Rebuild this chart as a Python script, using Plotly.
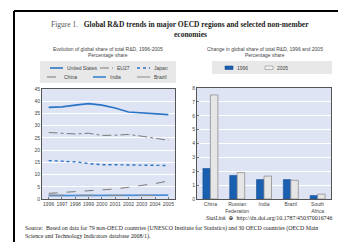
import plotly.graph_objects as go

years = [1996, 1997, 1998, 1999, 2000, 2001, 2002, 2003, 2004, 2005]
us = [37.5, 37.7, 38.4, 39.0, 38.4, 37.2, 35.6, 35.3, 34.7, 34.5]
eu27 = [27.2, 26.8, 26.6, 26.9, 26.0, 26.1, 26.4, 25.7, 25.0, 24.0]
japan = [15.7, 15.5, 15.2, 14.5, 14.0, 14.0, 13.9, 13.8, 13.6, 13.7]
china = [2.3, 2.6, 2.9, 3.3, 3.7, 4.1, 4.8, 5.5, 6.3, 7.4]
india = [1.4, 1.4, 1.5, 1.5, 1.5, 1.6, 1.6, 1.6, 1.6, 1.6]
brazil = [1.6, 1.6, 1.5, 1.4, 1.4, 1.4, 1.4, 1.4, 1.4, 1.4]

countries = ["China", "Russian<br>Federation", "India", "Brazil", "South<br>Africa"]
share_1996 = [2.2, 1.7, 1.4, 1.4, 0.25]
share_2005 = [7.5, 1.9, 1.65, 1.35, 0.35]

y_ticks_left = [0, 5, 10, 15, 20, 25, 30, 35, 40, 45]
y_ticks_right = [0, 1, 2, 3, 4, 5, 6, 7, 8]

BLUE = "#2a74c4"
DBLUE = "#1b5fb0"
GRAY = "#7a7a7a"
BG = "#dfe4f4"
LEGBG = "#e8e8e8"
SANS = "Liberation Sans Narrow, Liberation Sans, Arial"
SERIF = "Liberation Serif, DejaVu Serif, serif"

# page body has an 8px margin: figure sits at (8, 8) in the window
OFF = 8
W, H = 346 - OFF, 242 - OFF
def px(x):
    return (x - OFF) / W
def py(y):
    return 1 - (y - OFF) / H

fig = go.Figure()

line_specs = [
    ("United States", us, dict(color=BLUE, width=1.6, dash="solid")),
    ("EU27", eu27, dict(color=GRAY, width=1.0, dash="dashdot")),
    ("Japan", japan, dict(color=BLUE, width=1.4, dash="dot")),
    ("China", china, dict(color=GRAY, width=1.0, dash="dash")),
    ("India", india, dict(color="#4a8fd6", width=1.8, dash="solid")),
    ("Brazil", brazil, dict(color="#8a8a8a", width=1.0, dash="longdash")),
]
for name, vals, ln in line_specs:
    fig.add_trace(go.Scatter(x=years, y=vals, name=name, mode="lines", line=ln,
                             xaxis="x", yaxis="y", showlegend=False))

fig.add_trace(go.Bar(x=countries, y=share_1996, name="1996",
                     marker=dict(color=DBLUE, line=dict(color="#174f94", width=0.6)),
                     xaxis="x2", yaxis="y2", showlegend=False))
fig.add_trace(go.Bar(x=countries, y=share_2005, name="2005",
                     marker=dict(color="#e6e6e6", line=dict(color="#8f8f8f", width=0.8)),
                     xaxis="x2", yaxis="y2", showlegend=False))

axis_common = dict(zeroline=False, showline=True, mirror=True,
                   linecolor="#555555", linewidth=1,
                   tickfont=dict(family=SANS, size=5, color="#444"))

fig.update_layout(
    width=W, height=H,
    margin=dict(l=0, r=0, t=0, b=0, autoexpand=False),
    paper_bgcolor="white",
    plot_bgcolor=BG,
    showlegend=False,
    barmode="group", bargap=0.44, bargroupgap=0,
    xaxis=dict(domain=[px(42), px(175)], range=[1995.5, 2005.5], tickvals=years,
               tickangle=0, showgrid=False, ticks="inside", ticklen=2, tickcolor="#777",
               automargin=False, **axis_common),
    yaxis=dict(domain=[py(199), py(89)], range=[0, 45], tickvals=y_ticks_left,
               showgrid=True, gridcolor="white", gridwidth=0.8, automargin=False,
               **axis_common),
    xaxis2=dict(domain=[px(197), px(331)], anchor="y2", tickangle=0, showgrid=False,
                automargin=False, **axis_common),
    yaxis2=dict(domain=[py(199), py(88)], anchor="x2", range=[0, 8], tickvals=y_ticks_right,
                ticks="inside", ticklen=2, tickcolor="#777",
                showgrid=True, gridcolor="white", gridwidth=0.8, automargin=False,
                **axis_common),
)

annotations = [
    dict(x=px(180), y=py(25), text="<span style='color:#555'>Figure 1.</span>   <b>Global R&amp;D trends in major OECD regions and selected non-member</b>",
         font=dict(family=SERIF, size=7.5, color="#222")),
    dict(x=px(190), y=py(34), text="<b>economies</b>", font=dict(family=SERIF, size=7.5, color="#222")),
    dict(x=px(108), y=py(48.5), text="Evolution of global share of total R&amp;D, 1996-2005",
         font=dict(family=SANS, size=5, color="#444")),
    dict(x=px(108), y=py(55), text="Percentage share", font=dict(family=SANS, size=5, color="#444")),
    dict(x=px(265), y=py(48.5), text="Change in global share of total R&amp;D, 1996 and 2005",
         font=dict(family=SANS, size=5, color="#444")),
    dict(x=px(265), y=py(55), text="Percentage share", font=dict(family=SANS, size=5, color="#444")),
    dict(x=px(334), y=py(218), xanchor="right", text="<i>StatLink</i>  ⊕  http://dx.doi.org/10.1787/450370016746",
         font=dict(family=SERIF, size=5.9, color="#222")),
    dict(x=px(23), y=py(228), xanchor="left",
         text="Source:  Based on data for 79 non-OECD countries (UNESCO Institute for Statistics) and 30 OECD countries (OECD Main",
         font=dict(family=SERIF, size=5.9, color="#222")),
    dict(x=px(23), y=py(236.5), xanchor="left",
         text="Science and Technology Indicators database 2008/1).",
         font=dict(family=SERIF, size=5.9, color="#222")),
]

shapes = [
    dict(type="line", xref="paper", yref="paper", x0=px(14), x1=1.0, y0=py(11), y1=py(11),
         line=dict(color="black", width=2)),
    dict(type="line", xref="paper", yref="paper", x0=px(14), x1=px(14), y0=py(11), y1=0,
         line=dict(color="black", width=2)),
    # legend boxes
    dict(type="rect", xref="paper", yref="paper", x0=px(40), x1=px(176), y0=py(83), y1=py(61),
         fillcolor=LEGBG, line=dict(width=0), layer="below"),
    dict(type="rect", xref="paper", yref="paper", x0=px(212), x1=px(332), y0=py(74), y1=py(61),
         fillcolor=LEGBG, line=dict(width=0), layer="below"),
]

# left legend entries (position of sample line start, row y)
leg_pos = [(50, 68), (100, 68), (137, 68), (47, 77), (93, 77), (137, 77)]
for (name, _, ln), (lx, ly) in zip(line_specs, leg_pos):
    shapes.append(dict(type="line", xref="paper", yref="paper", x0=px(lx), x1=px(lx + 13),
                       y0=py(ly), y1=py(ly), line=ln))
    annotations.append(dict(x=px(lx + 15), y=py(ly), xanchor="left", text=name,
                            font=dict(family=SANS, size=5, color="#444")))

# right legend entries
shapes.append(dict(type="rect", xref="paper", yref="paper", x0=px(225), x1=px(233),
                   y0=py(69.5), y1=py(66), fillcolor=DBLUE, line=dict(color="#174f94", width=0.6)))
shapes.append(dict(type="rect", xref="paper", yref="paper", x0=px(265), x1=px(273),
                   y0=py(69.5), y1=py(66), fillcolor="#f2f2f2", line=dict(color="#8f8f8f", width=0.6)))
annotations.append(dict(x=px(235), y=py(67.8), xanchor="left", text="1996",
                        font=dict(family=SANS, size=5, color="#444")))
annotations.append(dict(x=px(275), y=py(67.8), xanchor="left", text="2005",
                        font=dict(family=SANS, size=5, color="#444")))

for a in annotations:
    a.setdefault("xanchor", "center")
    a.update(xref="paper", yref="paper", yanchor="middle", showarrow=False)

fig.update_layout(annotations=annotations, shapes=shapes)

fig.write_html("out.html")
